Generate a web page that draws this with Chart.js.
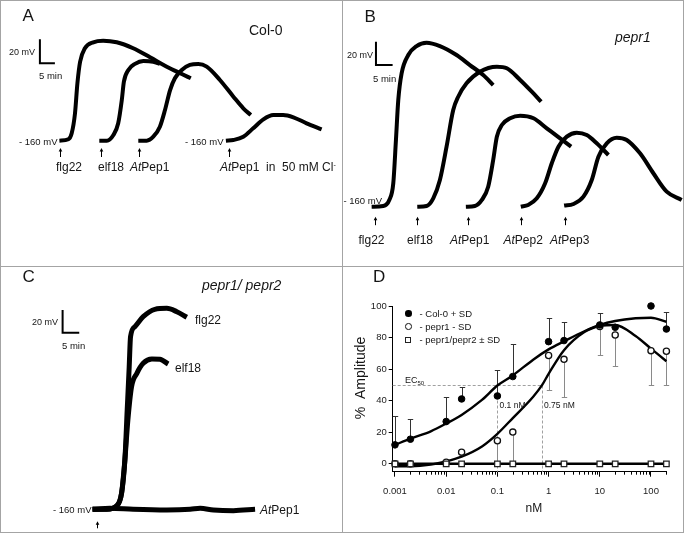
<!DOCTYPE html>
<html><head><meta charset="utf-8">
<script src="https://cdn.jsdelivr.net/npm/chart.js@4.4.0/dist/chart.umd.min.js"></script>
<style>
html,body{margin:0;padding:0;background:#fff;}
#fig{position:relative;width:685px;height:534px;overflow:hidden;font-family:"Liberation Sans",Arial,sans-serif;color:#151515;}
canvas{position:absolute;}
.t{position:absolute;white-space:nowrap;line-height:1;}
.i{font-style:italic;}
.ln{position:absolute;background:#a4a4a4;}
.mk{position:absolute;box-sizing:border-box;}
</style></head><body>
<div id="fig">
<canvas id="cA" width="342" height="266" style="left:0;top:0"></canvas>
<canvas id="cB" width="340" height="266" style="left:343px;top:0"></canvas>
<canvas id="cC" width="342" height="266" style="left:0;top:267px"></canvas>
<canvas id="cD" width="340" height="266" style="left:343px;top:267px"></canvas>

<!-- frame -->
<div class="ln" style="left:0;top:0;width:684px;height:1px"></div>
<div class="ln" style="left:0;top:532px;width:684px;height:1px"></div>
<div class="ln" style="left:0;top:0;width:1px;height:533px"></div>
<div class="ln" style="left:683px;top:0;width:1px;height:533px"></div>
<div class="ln" style="left:342px;top:0;width:1px;height:533px"></div>
<div class="ln" style="left:0;top:266px;width:684px;height:1px"></div>

<!-- Panel A text -->
<div class="t" style="left:22.5px;top:6.5px;font-size:17px">A</div>
<div class="t" style="left:249px;top:23.3px;font-size:14px">Col-0</div>
<div class="t" style="left:9px;top:47.5px;font-size:9px">20 mV</div>
<div class="t" style="left:39px;top:71px;font-size:9.5px">5 min</div>
<div class="t" style="left:19px;top:137px;font-size:9.5px">- 160 mV</div>
<div class="t" style="left:185px;top:137px;font-size:9.5px">- 160 mV</div>
<div class="t" style="left:56px;top:160.5px;font-size:12px">flg22</div>
<div class="t" style="left:98px;top:160.5px;font-size:12px">elf18</div>
<div class="t" style="left:130px;top:160.5px;font-size:12px"><span class="i">At</span>Pep1</div>
<div class="t" style="left:220px;top:160.5px;font-size:12px"><span class="i">At</span>Pep1&nbsp;&nbsp;in&nbsp;&nbsp;50 mM Cl<sup style="font-size:7px;vertical-align:4px;line-height:0">-</sup></div>

<!-- Panel B text -->
<div class="t" style="left:364.5px;top:7.7px;font-size:17px">B</div>
<div class="t i" style="left:615px;top:30.2px;font-size:14px">pepr1</div>
<div class="t" style="left:347px;top:50.8px;font-size:9px">20 mV</div>
<div class="t" style="left:373px;top:73.8px;font-size:9.5px">5 min</div>
<div class="t" style="left:343.5px;top:196px;font-size:9.5px">- 160 mV</div>
<div class="t" style="left:358.5px;top:233.5px;font-size:12px">flg22</div>
<div class="t" style="left:407px;top:233.5px;font-size:12px">elf18</div>
<div class="t" style="left:450px;top:233.5px;font-size:12px"><span class="i">At</span>Pep1</div>
<div class="t" style="left:503.5px;top:233.5px;font-size:12px"><span class="i">At</span>Pep2</div>
<div class="t" style="left:550px;top:233.5px;font-size:12px"><span class="i">At</span>Pep3</div>

<!-- Panel C text -->
<div class="t" style="left:22.5px;top:267.7px;font-size:17px">C</div>
<div class="t i" style="left:202px;top:278.2px;font-size:14px">pepr1/ pepr2</div>
<div class="t" style="left:32px;top:318px;font-size:9px">20 mV</div>
<div class="t" style="left:62px;top:341px;font-size:9.5px">5 min</div>
<div class="t" style="left:53px;top:505px;font-size:9.5px">- 160 mV</div>
<div class="t" style="left:195px;top:313.5px;font-size:12px">flg22</div>
<div class="t" style="left:175px;top:361.5px;font-size:12px">elf18</div>
<div class="t" style="left:260px;top:503.5px;font-size:12px"><span class="i">At</span>Pep1</div>

<!-- Panel D text -->
<div class="t" style="left:373px;top:267.7px;font-size:17px">D</div>
<div class="mk" style="left:405px;top:310px;width:6.6px;height:6.6px;border-radius:50%;background:#000"></div>
<div class="mk" style="left:405px;top:323.4px;width:6.6px;height:6.6px;border-radius:50%;border:1.3px solid #111;background:#fff"></div>
<div class="mk" style="left:405.3px;top:337px;width:6px;height:6px;border:1.3px solid #222;background:#fff"></div>
<div class="t" style="left:419.5px;top:308.6px;font-size:9.5px">- Col-0 + SD</div>
<div class="t" style="left:419.5px;top:322px;font-size:9.5px">- pepr1 - SD</div>
<div class="t" style="left:419.5px;top:335.3px;font-size:9.5px">- pepr1/pepr2 ± SD</div>
<div class="t" style="left:405px;top:376px;font-size:9px">EC<sub style="font-size:6px;vertical-align:-2px;line-height:0">50</sub></div>
<div class="t" style="left:499.5px;top:401px;font-size:8.5px">0.1 nM</div>
<div class="t" style="left:544px;top:400.5px;font-size:8.5px">0.75 nM</div>
<div class="t" style="left:533.8px;top:508.3px;font-size:12px;transform:translate(-50%,-50%)">nM</div>
<div class="t" style="left:360px;top:378.3px;font-size:14px;transform:translate(-50%,-50%) rotate(-90deg)">%&nbsp;&nbsp;Amplitude</div>
</div>

<script>
// ---------- Panel A (Col-0): time (min), membrane potential (mV) ----------
const aFlg22T = [19.8,22.8,23.9,25.0,25.8,26.7,28.3,31.1,34.4,38.9,44.4,50.0,55.6,60.6,63.6];
const aFlg22V = [-160,-158.8,-153.8,-137.2,-112.2,-94.2,-83,-78,-76.7,-78,-83,-90.5,-98.3,-104.4,-108];
const aElf18T = [33.1,35.6,37.8,39.4,40.6,41.3,42.8,45.0,47.8,51.1,53.3];
const aElf18V = [-160,-160,-155.3,-145.5,-126.1,-110.8,-101,-96,-93.6,-94.2,-96];
const aPep1T  = [46.1,48.9,51.1,53.3,55.0,56.7,58.3,60.6,63.3,66.1,68.9,73.3,77.8,81.1,83.6];
const aPep1V  = [-160,-160,-156.7,-148.3,-134.4,-117.8,-108,-101.1,-96.9,-96.1,-98.3,-109.4,-123.3,-133,-138.6];
const aPep1ClT = [75.3,77.8,81.1,84.4,87.8,91.1,94.4,97.8,102.2,107.2];
const aPep1ClV = [-160,-159.4,-156.7,-149.7,-142.2,-138.6,-138.6,-140.5,-145.5,-150.5];
const aStimT = [20.0,33.6,46.2,76.3];

// ---------- Panel B (pepr1) ----------
const bFlg22T = [8.6,12.1,13.9,15.1,15.9,16.6,17.6,19.6,22.1,25.1,29.1,34.1,38.1,42.1,45.1];
const bFlg22V = [-160,-159.4,-154.2,-139.9,-102.7,-68.4,-45.5,-29.8,-22.1,-19.2,-22.1,-29.8,-38.4,-47,-55.6];
const bElf18T = [22.3,25.1,27.1,29.1,31.1,33.1,34.6,37.1,41.1,46.2,49.2,53.2,56.7,59.5];
const bElf18V = [-160,-159.4,-152.8,-137.1,-108.5,-77,-65.6,-54.1,-44.1,-39.8,-41.2,-51.2,-61.3,-69.9];
const bPep1T = [36.9,39.6,41.7,43.6,45.1,46.2,47.7,50.2,53.2,57.2,61.2,65.2,68.5];
const bPep1V = [-160,-159.4,-154.2,-142.8,-119.9,-99.9,-89.9,-84.1,-81.9,-84.1,-92.7,-101.3,-108.5];
const bPep2T = [53.4,55.6,58.2,60.7,62.7,64.7,67.2,70.2,73.2,76.2,79.7];
const bPep2V = [-160,-158.5,-152.8,-139.9,-122.7,-108.5,-99.9,-96.5,-98.5,-105.6,-115.6];
const bPep3T = [66.4,69.2,72.2,74.7,76.7,79.2,82.2,85.2,89.2,93.2,97.2,101.7];
const bPep3V = [-159,-157.7,-151.4,-137.1,-117.1,-105.6,-100.8,-102.7,-114.2,-131.3,-147.1,-154.2];
const bStimT = [9.6,22.3,37.6,53.4,66.7];

// ---------- Panel C (pepr1/pepr2) ----------
const cFlg22T = [27.8,32.0,35.0,36.5,37.5,38.2,38.8,39.2,40.5,43.0,46.5,50.1,53.1,56.1];
const cFlg22V = [-160,-160,-157.1,-145.9,-116.6,-72.5,-34.4,-7.9,0.9,9.7,16.2,17.1,14.1,9.2];
const cElf18T = [27.8,32.0,35.0,36.5,37.5,38.4,39.5,41.1,43.0,45.6,48.0,50.5];
const cElf18V = [-160,-160,-157.1,-145.9,-116.6,-81.3,-52,-40.2,-31.4,-27.6,-27.8,-32];
const cPep1T = [27.8,33.0,40.0,50.1,57.1,60.1,64.1,70.1,76.6];
const cPep1V = [-160,-159.1,-160,-160.6,-160,-159.1,-160.6,-161.2,-160];
const cStimT = [29.0];

const restingMV = -160;
const scaleBarMV = 20;
const scaleBarMin = 5;

// ---------- Panel D: dose response ----------
const concentrations = [0.001,0.002,0.01,0.02,0.1,0.2,1,2,10,20,100,200];
const col0Amp  = [12.0,15.6,26.8,41.1,43.0,55.3,77.4,78.1,88.0,86.5,100,85.4];
const col0SD   = [18.0,12.7,15.8,7.8,16.5,20.6,14.8,12.0,7.8,0,0,11.0];
const pepr1Amp = [0,0,1,7.4,14.6,20.1,68.6,66.2,87.0,81.6,71.7,71.3];
const pepr1SD  = [0,0,0,0,14.6,20.1,21.8,24.0,18.0,19.6,21.7,21.3];
const pepr12Amp = [0,0,0,0,0,0,0,0,0,0,0,0];
const col0FitX = [0.001,0.002,0.005,0.01,0.02,0.05,0.1,0.2,0.5,1,2,5,10,20,50,100,200];
const col0Fit  = [12,16,20.6,25.5,31,40.5,49.6,56,66,72.5,77.6,84,88,90.5,92.2,92.6,90];
const pepr1FitX = [0.001,0.002,0.005,0.01,0.02,0.05,0.1,0.2,0.5,0.75,1,2,5,10,20,50,100,200];
const pepr1Fit  = [-1.5,-1.5,-0.5,1.5,4.5,11,19,29,42.5,50,57,72,83.5,87.3,88,81,73,65];
const pepr12Fit = [0,0,0,0,0,0,0,0,0,0,0,0];
const ec50Values = [0.1,0.75];
const ec50Level = 50;
const xTickValues = [0.001,0.01,0.1,1,10,100];
const xTickLabels = ['0.001','0.01','0.1','1','10','100'];
const yTickValues = [0,20,40,60,80,100];

// ---------- plugins ----------
const arrowPlugin = {
  id:'stimArrows',
  afterDatasetsDraw(chart, args, o){
    const {ctx, scales:{x,y}} = chart;
    const yb = y.getPixelForValue(o.base);
    ctx.save(); ctx.strokeStyle='#000'; ctx.fillStyle='#000'; ctx.lineWidth=1;
    o.times.forEach(t=>{
      const px = Math.round(x.getPixelForValue(t))+0.5;
      const top = yb+o.off, bot = top+o.len;
      ctx.beginPath(); ctx.moveTo(px, top+2); ctx.lineTo(px, bot); ctx.stroke();
      ctx.beginPath(); ctx.moveTo(px, top); ctx.lineTo(px-1.8, top+3.5); ctx.lineTo(px+1.8, top+3.5); ctx.closePath(); ctx.fill();
    });
    ctx.restore();
  }
};

function tracePanel(id, L, traces, stim){
  const xMax = L.w/L.pxPerMin;
  const yMax = restingMV + L.base/L.pxPerMV;
  const yMin = yMax - L.h/L.pxPerMV;
  const datasets = traces.map(tr=>({
    data: tr[0].map((t,i)=>({x:t,y:tr[1][i]})),
    showLine:true, borderColor:'#000', borderWidth:L.lw, pointRadius:0,
    cubicInterpolationMode:'monotone', borderCapStyle:'butt', borderJoinStyle:'round', fill:false
  }));
  datasets.push({
    data:[{x:L.barT,y:L.barV+scaleBarMV},{x:L.barT,y:L.barV},{x:L.barT+scaleBarMin,y:L.barV}],
    showLine:true, borderColor:'#000', borderWidth:2, pointRadius:0, tension:0,
    borderCapStyle:'butt', borderJoinStyle:'miter'
  });
  new Chart(document.getElementById(id), {
    type:'scatter', data:{datasets},
    options:{responsive:false, animation:false, events:[], layout:{padding:0},
      plugins:{legend:{display:false}, tooltip:{enabled:false},
        stimArrows:{times:stim, base:restingMV, off:L.arrowOff, len:L.arrowLen}},
      scales:{x:{type:'linear',display:false,min:0,max:xMax},
              y:{type:'linear',display:false,min:yMin,max:yMax}}},
    plugins:[arrowPlugin]
  });
}

tracePanel('cA', {w:342,h:266,pxPerMin:3,pxPerMV:1.2,base:140.7,lw:4,barT:13.3,barV:-95.5,arrowOff:7.3,arrowLen:9},
  [[aFlg22T,aFlg22V],[aElf18T,aElf18V],[aPep1T,aPep1V],[aPep1ClT,aPep1ClV]], aStimT);
tracePanel('cB', {w:340,h:266,pxPerMin:3.33,pxPerMV:1.165,base:206.7,lw:4,barT:9.9,barV:-38.4,arrowOff:10,arrowLen:8.5},
  [[bFlg22T,bFlg22V],[bElf18T,bElf18V],[bPep1T,bPep1V],[bPep2T,bPep2V],[bPep3T,bPep3V]], bStimT);
tracePanel('cC', {w:342,h:266,pxPerMin:3.33,pxPerMV:1.135,base:242.3,lw:5,barT:18.8,barV:-4.4,arrowOff:12,arrowLen:7},
  [[cPep1T,cPep1V],[cFlg22T,cFlg22V],[cElf18T,cElf18V]], cStimT);

const pts = (xs,ys)=>xs.map((x,i)=>({x,y:ys[i]}));

const errorBars = {
  id:'errorBars',
  beforeDatasetsDraw(chart, args, o){
    const {ctx, scales:{x,y}} = chart;
    ctx.save(); ctx.lineWidth=1;
    o.sets.forEach(s=>{
      ctx.strokeStyle = s.color;
      s.x.forEach((xv,i)=>{
        const sd = s.sd[i]; if(!sd) return;
        const px = Math.round(x.getPixelForValue(xv))+0.5;
        const y0 = y.getPixelForValue(s.y[i]);
        const y1 = Math.round(y.getPixelForValue(s.y[i]+s.dir*sd))+0.5;
        ctx.beginPath(); ctx.moveTo(px,y0); ctx.lineTo(px,y1);
        ctx.moveTo(px-2.7,y1); ctx.lineTo(px+2.7,y1); ctx.stroke();
      });
    });
    ctx.restore();
  }
};
const ec50Lines = {
  id:'ec50',
  beforeDatasetsDraw(chart){
    const {ctx, scales:{x,y}, chartArea} = chart;
    const yp = Math.round(y.getPixelForValue(ec50Level))+0.5;
    ctx.save(); ctx.strokeStyle='#a0a0a0'; ctx.lineWidth=1; ctx.setLineDash([3,2]);
    ctx.beginPath();
    ctx.moveTo(chartArea.left, yp); ctx.lineTo(x.getPixelForValue(Math.max(...ec50Values)), yp);
    ec50Values.forEach(v=>{ const px=Math.round(x.getPixelForValue(v))+0.5; ctx.moveTo(px,yp); ctx.lineTo(px,chartArea.bottom); });
    ctx.stroke(); ctx.restore();
  }
};
const minorTicks = {
  id:'minorTicks',
  afterDraw(chart){
    const {ctx, scales:{x}, chartArea} = chart;
    ctx.save(); ctx.strokeStyle='#000'; ctx.lineWidth=1;
    xTickValues.forEach(d=>{ for(let m=2;m<=9;m++){ const v=m*d; if(v>x.max+1e-9) continue;
      const px=Math.round(x.getPixelForValue(v))+0.5;
      ctx.beginPath(); ctx.moveTo(px,chartArea.bottom); ctx.lineTo(px,chartArea.bottom+3); ctx.stroke(); }});
    ctx.restore();
  }
};

const tickFont = {family:'"Liberation Sans", Arial, sans-serif', size:9.5};
new Chart(document.getElementById('cD'), {
  type:'scatter',
  data:{datasets:[
    {label:'pepr1/pepr2 ± SD', data:pts(concentrations,pepr12Amp), pointStyle:'rect', pointRadius:3.9, backgroundColor:'#fff', borderColor:'#222', borderWidth:1.3, order:0, clip:false},
    {label:'Col-0 + SD', data:pts(concentrations,col0Amp), pointStyle:'circle', pointRadius:3.3, backgroundColor:'#000', borderColor:'#000', borderWidth:1, order:1, clip:false},
    {label:'pepr1 - SD', data:pts(concentrations,pepr1Amp), pointStyle:'circle', pointRadius:3.1, backgroundColor:'#fff', borderColor:'#111', borderWidth:1.3, order:2, clip:false},
    {label:'fit pepr1/pepr2', data:pts(concentrations,pepr12Fit), showLine:true, pointRadius:0, borderColor:'#000', borderWidth:2.6, order:5, clip:false},
    {label:'fit Col-0', data:pts(col0FitX,col0Fit), showLine:true, pointRadius:0, borderColor:'#000', borderWidth:2.4, cubicInterpolationMode:'monotone', order:6, clip:false},
    {label:'fit pepr1', data:pts(pepr1FitX,pepr1Fit), showLine:true, pointRadius:0, borderColor:'#000', borderWidth:2.4, cubicInterpolationMode:'monotone', order:7, clip:false}
  ]},
  options:{responsive:false, animation:false, events:[],
    layout:{padding:{top:39,right:16.6,left:0,bottom:0}},
    plugins:{legend:{display:false}, tooltip:{enabled:false},
      errorBars:{sets:[
        {x:concentrations, y:col0Amp, sd:col0SD, dir:1, color:'#333'},
        {x:concentrations, y:pepr1Amp, sd:pepr1SD, dir:-1, color:'#8a8a8a'}
      ]}},
    scales:{
      x:{type:'logarithmic', min:0.000902, max:200,
        afterBuildTicks:s=>{ s.ticks = xTickValues.map(v=>({value:v})); },
        afterFit:s=>{ s.height = 61.3; },
        ticks:{autoSkip:false, maxRotation:0, padding:9, color:'#222', font:tickFont, callback:(v,i)=>xTickLabels[i]},
        grid:{display:true, drawOnChartArea:false, drawTicks:true, tickLength:5, color:'#000', lineWidth:1},
        border:{display:true, color:'#000', width:1}},
      y:{type:'linear', min:-5, max:100,
        afterBuildTicks:s=>{ s.ticks = yTickValues.map(v=>({value:v})); },
        afterFit:s=>{ s.width = 49.7; },
        ticks:{padding:2, color:'#222', font:tickFont, callback:v=>String(v)},
        grid:{display:true, drawOnChartArea:false, drawTicks:true, tickLength:4, color:'#000', lineWidth:1},
        border:{display:true, color:'#000', width:1}}
    }},
  plugins:[ec50Lines, errorBars, minorTicks]
});
</script>
</body></html>
